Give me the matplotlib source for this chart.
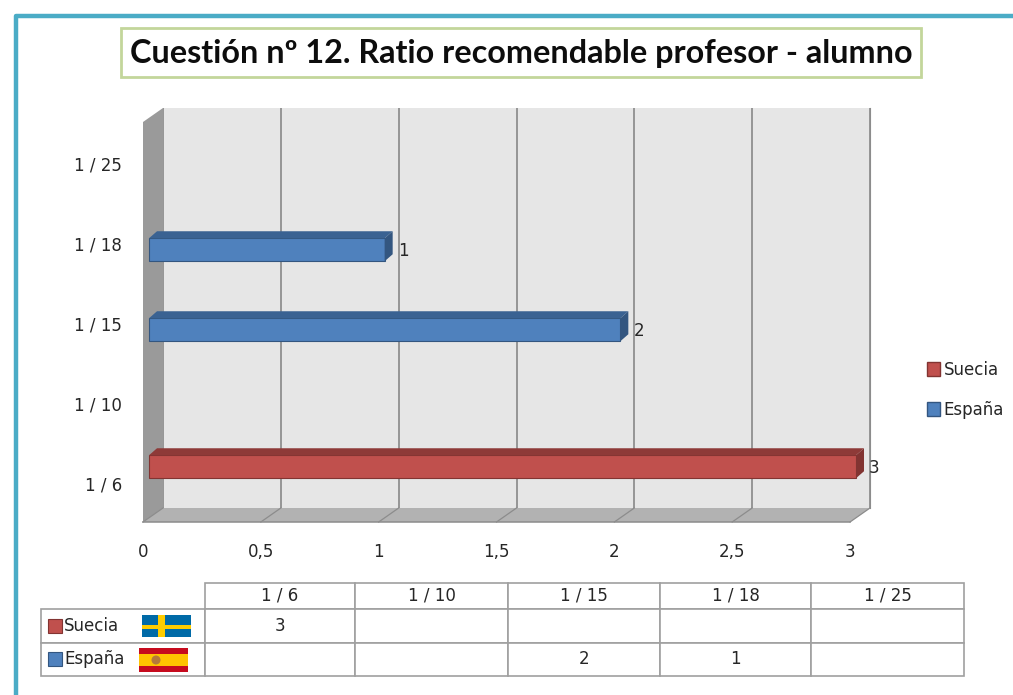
import matplotlib
matplotlib.use("Agg")
import matplotlib.pyplot as plt
from matplotlib.patches import Rectangle, Polygon, Circle
from matplotlib.transforms import Affine2D

# datos
categorias = ["1 / 6", "1 / 10", "1 / 15", "1 / 18", "1 / 25"]
suecia = [3, 0, 0, 0, 0]
espana = [0, 0, 2, 1, 0]
xticks = [0, 0.5, 1, 1.5, 2, 2.5, 3]
xtick_labels = ["0", "0,5", "1", "1,5", "2", "2,5", "3"]
titulo = "Cuestión nº 12. Ratio recomendable profesor - alumno"

ROJO, ROJO_TOP, ROJO_LADO = "#c0504d", "#8e3a38", "#823432"
AZUL, AZUL_TOP, AZUL_LADO = "#4f81bd", "#3a6292", "#335680"
TEXTO = "#262626"
W, H = 1013, 695
FUENTE = "DejaVu Sans"
TAM = 12


def pos(x0, y0, x1, y1):
    # caja en pixeles (origen arriba a la izquierda) a fraccion de figura
    return [x0 / W, 1 - y1 / H, (x1 - x0) / W, (y1 - y0) / H]


fig = plt.figure(figsize=(W / 100, H / 100), dpi=100, facecolor="white")

# ejes principales: plano del fondo del grafico 3D
ax = fig.add_axes(pos(163, 108, 870, 508), facecolor="#e6e6e6", zorder=2)
ax.set_xlim(0, 3)
ax.set_ylim(-0.3, 4.7)
for s in ax.spines.values():
    s.set_visible(False)
ax.spines["right"].set_visible(True)
ax.spines["right"].set_color("#8c8c8c")
ax.set_axisbelow(True)
ax.grid(axis="x", color="#7f7f7f", lw=1.1)
ax.set_xticks(xticks)
ax.set_xticklabels(xtick_labels, fontsize=TAM, color=TEXTO, family=FUENTE)
ax.set_yticks(range(len(categorias)))
ax.set_yticklabels(categorias, fontsize=TAM, color=TEXTO, family=FUENTE)
ax.tick_params(axis="y", length=0, pad=29.5)
ax.tick_params(axis="x", length=0, pad=25.5)
for lab in ax.get_xticklabels():
    lab.set_transform(lab.get_transform() + Affine2D().translate(-20, 0))
for lab in ax.get_yticklabels():
    lab.set_transform(lab.get_transform() + Affine2D().translate(0, 1))

# suelo y pared lateral
piso = ax.transData + Affine2D().translate(-20, -14)
ax.add_patch(Polygon([ax.transData.transform((0, -0.3)),
                      ax.transData.transform((3, -0.3)),
                      piso.transform((3, -0.3)),
                      piso.transform((0, -0.3))],
                     closed=True, facecolor="#b2b2b2", edgecolor="none",
                     transform=Affine2D(), clip_on=False, zorder=0.5))
ax.add_patch(Polygon([ax.transData.transform((0, 4.7)),
                      ax.transData.transform((0, -0.3)),
                      piso.transform((0, -0.3)),
                      piso.transform((0, 4.7))],
                     closed=True, facecolor="#9a9a9a", edgecolor="none",
                     transform=Affine2D(), clip_on=False, zorder=0.6))
for v in xticks:
    a = ax.transData.transform((v, -0.3))
    b = piso.transform((v, -0.3))
    ax.plot([a[0], b[0]], [a[1], b[1]], color="#8c8c8c", lw=0.9,
            transform=Affine2D(), clip_on=False, zorder=0.7)
ax.plot([0, 3], [-0.3, -0.3], color="#8c8c8c", lw=1.1, transform=piso,
        clip_on=False, zorder=0.8)

# barras: plano frontal desplazado respecto al fondo
frente = ax.transData + Affine2D().translate(-14, 5.75)
fondo_barra = Affine2D().translate(8, 7)
alto = 0.2875


def barra3d(y, valor, cara, top, lado):
    ax.barh(y, valor, height=alto, color=cara, edgecolor=lado, lw=0.8,
            transform=frente, clip_on=False, zorder=3)
    p = [frente.transform((0, y + alto / 2)), frente.transform((valor, y + alto / 2))]
    q = [frente.transform((valor, y - alto / 2)), frente.transform((valor, y + alto / 2))]
    ax.add_patch(Polygon([p[0], p[1], fondo_barra.transform(p[1]), fondo_barra.transform(p[0])],
                         facecolor=top, edgecolor="none", transform=Affine2D(),
                         clip_on=False, zorder=3))
    ax.add_patch(Polygon([q[0], q[1], fondo_barra.transform(q[1]), fondo_barra.transform(q[0])],
                         facecolor=lado, edgecolor="none", transform=Affine2D(),
                         clip_on=False, zorder=3))
    ax.text(valor, y, str(valor), transform=frente + Affine2D().translate(13, -1),
            ha="left", va="center", fontsize=TAM, color=TEXTO, family=FUENTE, zorder=4)


for i in range(len(categorias)):
    if suecia[i]:
        barra3d(i + alto / 2, suecia[i], ROJO, ROJO_TOP, ROJO_LADO)
    if espana[i]:
        barra3d(i - alto / 2, espana[i], AZUL, AZUL_TOP, AZUL_LADO)

ax.set_xlim(0, 3)
ax.set_ylim(-0.3, 4.7)

# leyenda
h_sue = Rectangle((0, 0), 1, 1, facecolor=ROJO, edgecolor=ROJO_LADO)
h_esp = Rectangle((0, 0), 1, 1, facecolor=AZUL, edgecolor=AZUL_LADO)
fig.legend([h_sue, h_esp], ["Suecia", "España"], loc="upper left",
           bbox_to_anchor=(927 / W, 1 - 361 / H), frameon=False, borderpad=0,
           borderaxespad=0, handlelength=0.8, handleheight=0.9, handletextpad=0.2,
           labelspacing=1.3, prop={"family": FUENTE, "size": TAM},
           labelcolor=TEXTO)

# tabla de datos
tab_ax = fig.add_axes(pos(41, 583, 964, 676), zorder=3)
tab_ax.axis("off")


def celda(v):
    return str(v) if v else ""


filas = [[""] + categorias,
         ["Suecia"] + [celda(v) for v in suecia],
         ["España"] + [celda(v) for v in espana]]
anchos = [164, 150, 153, 152, 151, 153]
tabla = tab_ax.table(cellText=filas, colWidths=[a / 923 for a in anchos],
                     cellLoc="center", bbox=[0, 0, 1, 1])
tabla.auto_set_font_size(False)
tabla.set_fontsize(TAM)
altos = [26, 34, 33]
for (r, c), cell in tabla.get_celld().items():
    cell.set_height(altos[r] / 93)
    cell.set_edgecolor("#a0a0a0")
    cell.set_linewidth(1.2)
    cell.set_text_props(color=TEXTO, family=FUENTE)
    if c == 0:
        cell.set_text_props(ha="left")
        cell.PAD = 23 / 164
tabla[(0, 0)].visible_edges = ""

# marco, titulo, muestras y banderas en pixeles
deco = fig.add_axes([0, 0, 1, 1], zorder=4)
deco.set_xlim(0, W)
deco.set_ylim(H, 0)
deco.axis("off")
deco.plot([15.5, 15.5, W], [H, 15.5, 15.5], color="#4bacc6", lw=3.2,
          solid_joinstyle="round", solid_capstyle="butt")
deco.add_patch(Rectangle((121, 28), 800, 49, facecolor="white", edgecolor="#c3d69b", lw=2))
deco.text(521, 53, titulo, ha="center", va="center", fontsize=23.3, fontweight="bold",
          family="Lato", color="#0d0d0d")

deco.add_patch(Rectangle((47.5, 618.5), 14, 14, facecolor=ROJO, edgecolor=ROJO_LADO, lw=0.8))
deco.add_patch(Rectangle((47.5, 652), 14, 14, facecolor=AZUL, edgecolor=AZUL_LADO, lw=0.8))

# bandera de Suecia
deco.add_patch(Rectangle((142, 615), 49, 22, facecolor="#006aa7", edgecolor="none"))
deco.add_patch(Rectangle((142, 624.5), 49, 4.5, facecolor="#fecc00", edgecolor="none"))
deco.add_patch(Rectangle((158, 615), 7, 22, facecolor="#fecc00", edgecolor="none"))
# bandera de Espana
deco.add_patch(Rectangle((139, 648), 49, 24, facecolor="#c60b1e", edgecolor="none"))
deco.add_patch(Rectangle((139, 653.5), 49, 12, facecolor="#ffc400", edgecolor="none"))
deco.add_patch(Circle((156, 660), 4.5, facecolor="#b5793a", edgecolor="none"))

fig.savefig("out.png", dpi=100)
